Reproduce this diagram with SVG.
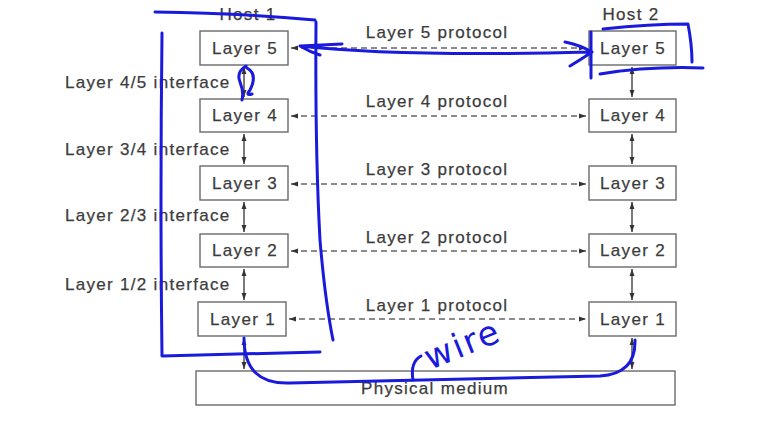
<svg xmlns="http://www.w3.org/2000/svg" width="770" height="428" viewBox="0 0 770 428">
<style>
.box{fill:#fff;stroke:#6a6a6a;stroke-width:1.4}
.t{font-family:"Liberation Sans",Arial,sans-serif;font-size:17px;letter-spacing:1.3px;fill:#3c3c3c;stroke:#3c3c3c;stroke-width:0.25}
.lbl{font-family:"Liberation Sans",Arial,sans-serif;font-size:17px;letter-spacing:1.3px;fill:#3c3c3c;stroke:#3c3c3c;stroke-width:0.25;text-anchor:middle}
.dash{stroke:#666;stroke-width:1.3;stroke-dasharray:6,4;fill:none}
.v{stroke:#333;stroke-width:1.3;fill:none}
.ink{stroke:#1a1adc;stroke-width:3;fill:none;stroke-linecap:round;stroke-linejoin:round}
</style>
<defs>
<marker id="ah" viewBox="0 0 10 10" refX="10" refY="5" markerWidth="7" markerHeight="7" orient="auto-start-reverse" markerUnits="userSpaceOnUse">
<path d="M0,1.5 L10,5 L0,8.5 z" fill="#333"/>
</marker>
</defs>
<rect width="770" height="428" fill="#fff"/>
<text class="lbl" x="248" y="20">Host 1</text>
<text class="lbl" x="631" y="20">Host 2</text>
<g id="h1l5"><rect class="box" x="200" y="31" width="88" height="34"/><text class="lbl" x="245" y="54">Layer 5</text></g>
<g id="h1l4"><rect class="box" x="200" y="99" width="88" height="33"/><text class="lbl" x="245" y="121">Layer 4</text></g>
<g id="h1l3"><rect class="box" x="200" y="166" width="88" height="34"/><text class="lbl" x="245" y="189">Layer 3</text></g>
<g id="h1l2"><rect class="box" x="200" y="234" width="88" height="33"/><text class="lbl" x="245" y="256">Layer 2</text></g>
<g id="h1l1"><rect class="box" x="198" y="302" width="88" height="34"/><text class="lbl" x="243" y="325">Layer 1</text></g>
<g id="h2l5"><rect class="box" x="589" y="31" width="87" height="34"/><text class="lbl" x="633" y="54">Layer 5</text></g>
<g id="h2l4"><rect class="box" x="589" y="99" width="87" height="33"/><text class="lbl" x="633" y="121">Layer 4</text></g>
<g id="h2l3"><rect class="box" x="589" y="166" width="87" height="34"/><text class="lbl" x="633" y="189">Layer 3</text></g>
<g id="h2l2"><rect class="box" x="589" y="234" width="87" height="33"/><text class="lbl" x="633" y="256">Layer 2</text></g>
<g id="h2l1"><rect class="box" x="589" y="302" width="87" height="34"/><text class="lbl" x="633" y="325">Layer 1</text></g>
<g id="phys"><rect class="box" x="196" y="371" width="479" height="34"/><text class="lbl" x="435" y="394">Physical medium</text></g>
<g id="labels">
<text class="lbl" x="437" y="38">Layer 5 protocol</text>
<text class="lbl" x="437" y="107">Layer 4 protocol</text>
<text class="lbl" x="437" y="175">Layer 3 protocol</text>
<text class="lbl" x="437" y="243">Layer 2 protocol</text>
<text class="lbl" x="437" y="311">Layer 1 protocol</text>
<text class="t" x="65" y="88">Layer 4/5 interface</text>
<text class="t" x="65" y="155">Layer 3/4 interface</text>
<text class="t" x="65" y="221">Layer 2/3 interface</text>
<text class="t" x="65" y="290">Layer 1/2 interface</text>
</g>
<g id="connectors">
<line class="dash" x1="291" y1="48" x2="586" y2="48" marker-start="url(#ah)" marker-end="url(#ah)"/>
<line class="dash" x1="291" y1="116" x2="586" y2="116" marker-start="url(#ah)" marker-end="url(#ah)"/>
<line class="dash" x1="291" y1="184" x2="586" y2="184" marker-start="url(#ah)" marker-end="url(#ah)"/>
<line class="dash" x1="291" y1="251" x2="586" y2="251" marker-start="url(#ah)" marker-end="url(#ah)"/>
<line class="dash" x1="289" y1="319" x2="586" y2="319" marker-start="url(#ah)" marker-end="url(#ah)"/>
<line class="v" x1="244" y1="67" x2="244" y2="97" marker-start="url(#ah)" marker-end="url(#ah)"/>
<line class="v" x1="244" y1="134" x2="244" y2="164" marker-start="url(#ah)" marker-end="url(#ah)"/>
<line class="v" x1="244" y1="202" x2="244" y2="232" marker-start="url(#ah)" marker-end="url(#ah)"/>
<line class="v" x1="244" y1="269" x2="244" y2="300" marker-start="url(#ah)" marker-end="url(#ah)"/>
<line class="v" x1="244" y1="338" x2="244" y2="369" marker-start="url(#ah)" marker-end="url(#ah)"/>
<line class="v" x1="632" y1="67" x2="632" y2="97" marker-start="url(#ah)" marker-end="url(#ah)"/>
<line class="v" x1="632" y1="134" x2="632" y2="164" marker-start="url(#ah)" marker-end="url(#ah)"/>
<line class="v" x1="632" y1="202" x2="632" y2="232" marker-start="url(#ah)" marker-end="url(#ah)"/>
<line class="v" x1="632" y1="269" x2="632" y2="300" marker-start="url(#ah)" marker-end="url(#ah)"/>
<line class="v" x1="632" y1="338" x2="632" y2="369" marker-start="url(#ah)" marker-end="url(#ah)"/>
</g>
<g id="annotations">
<path class="ink" d="M155,12 Q240,13 315,20"/>
<path class="ink" d="M162,33 Q160,200 162,356 L320,352"/>
<path class="ink" d="M316,22 Q315,150 320,240 Q325,300 333,340"/>
<path class="ink" d="M342,44 L300,46 Q310,52 320,55 M300,46 Q400,57 590,52 M565,42 Q580,45 592,52 Q580,60 570,66"/>
<path class="ink" d="M591,32 L591,78 M603,29 Q650,24 688,24 Q692,45 692,62 M600,74 Q650,66 703,68"/>
<path class="ink" d="M246,66 Q236,72 240,82 Q244,92 242,100 M247,68 Q258,74 250,90 Q245,96 252,94"/>
<path class="ink" d="M244,338 Q244,385 290,383 Q450,379 600,376 Q636,374 635,340"/>
<path class="ink" d="M421,356 Q410,362 413,380"/>
<text x="430" y="370" transform="rotate(-22 430 370)" style="font-family:'DejaVu Sans',sans-serif;font-size:34px;letter-spacing:2px;fill:#1a1adc">wire</text>
</g>
</svg>
